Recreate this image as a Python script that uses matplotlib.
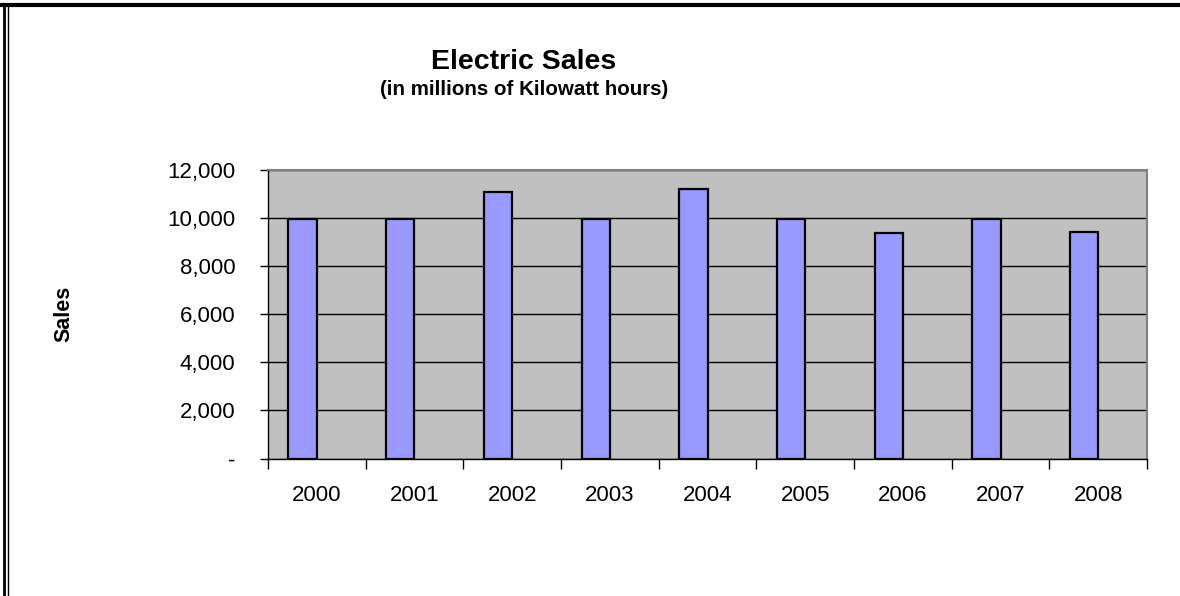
import matplotlib.pyplot as plt
from matplotlib.lines import Line2D
from matplotlib.ticker import FixedLocator, FuncFormatter
import numpy as np

years = ["2000", "2001", "2002", "2003", "2004", "2005", "2006", "2007", "2008"]
sales = [9930, 9960, 11080, 9950, 11210, 9950, 9350, 9950, 9390]
y_ticks = [0, 2000, 4000, 6000, 8000, 10000, 12000]

plt.rcParams["font.family"] = ["Liberation Sans", "DejaVu Sans"]

fig = plt.figure(figsize=(11.8, 5.96), dpi=100)
ax = fig.add_axes([0.2271, 0.2307, 0.745, 0.4849])

x = np.arange(len(years))
bar_w = 0.29
ax.set_facecolor("#C0C0C0")
# clustered layout with an empty second series: bar sits left of the category centre
ax.bar(x - bar_w / 2, sales, width=bar_w, color="#9999FF", edgecolor="black",
       linewidth=1.6, zorder=3)

ax.set_xlim(-0.5, len(years) - 0.5)
ax.set_ylim(0, 12000)
ax.yaxis.set_major_locator(FixedLocator(y_ticks))
ax.yaxis.set_major_formatter(FuncFormatter(lambda v, p: "-" if v == 0 else f"{int(v):,}"))
ax.grid(axis="y", color="black", linewidth=1.0, zorder=1)

# category labels centred, tick marks between categories
ax.set_xticks(np.arange(-0.5, len(years)), minor=False)
ax.set_xticklabels([])
ax.set_xticks(x, minor=True)
ax.set_xticklabels(years, minor=True, fontsize=16)
ax.tick_params(axis="x", which="minor", length=0, pad=19)
ax.tick_params(axis="x", which="major", length=7, width=1, direction="out")
ax.tick_params(axis="y", length=6, width=1, direction="out", labelsize=16, pad=17.5)

for side in ["left", "bottom"]:
    ax.spines[side].set_color("black")
    ax.spines[side].set_linewidth(1.0)
for side in ["top", "right"]:
    ax.spines[side].set_color("#808080")
    ax.spines[side].set_linewidth(1.5)

ax.set_ylabel("Sales", fontsize=15.5, fontweight="bold")
ax.yaxis.label.set_va("center")
ax.yaxis.set_label_coords(-0.232, 0.5)

fig.text(0.444, 0.896, "Electric Sales", ha="center", va="center",
         fontsize=20.5, fontweight="bold")
fig.text(0.444, 0.849, "(in millions of Kilowatt hours)", ha="center", va="center",
         fontsize=14.8, fontweight="bold")

# outer chart frame: thick top edge, double left edge
fig.add_artist(Line2D([0.002, 1.0], [0.9916, 0.9916], transform=fig.transFigure,
                      color="black", linewidth=3.0))
fig.add_artist(Line2D([0.0038, 0.0038], [0.0, 0.994], transform=fig.transFigure,
                      color="black", linewidth=2.0))
fig.add_artist(Line2D([0.0064, 0.0064], [0.0, 0.99], transform=fig.transFigure,
                      color="black", linewidth=1.0))

fig.savefig("out.png", dpi=100)
